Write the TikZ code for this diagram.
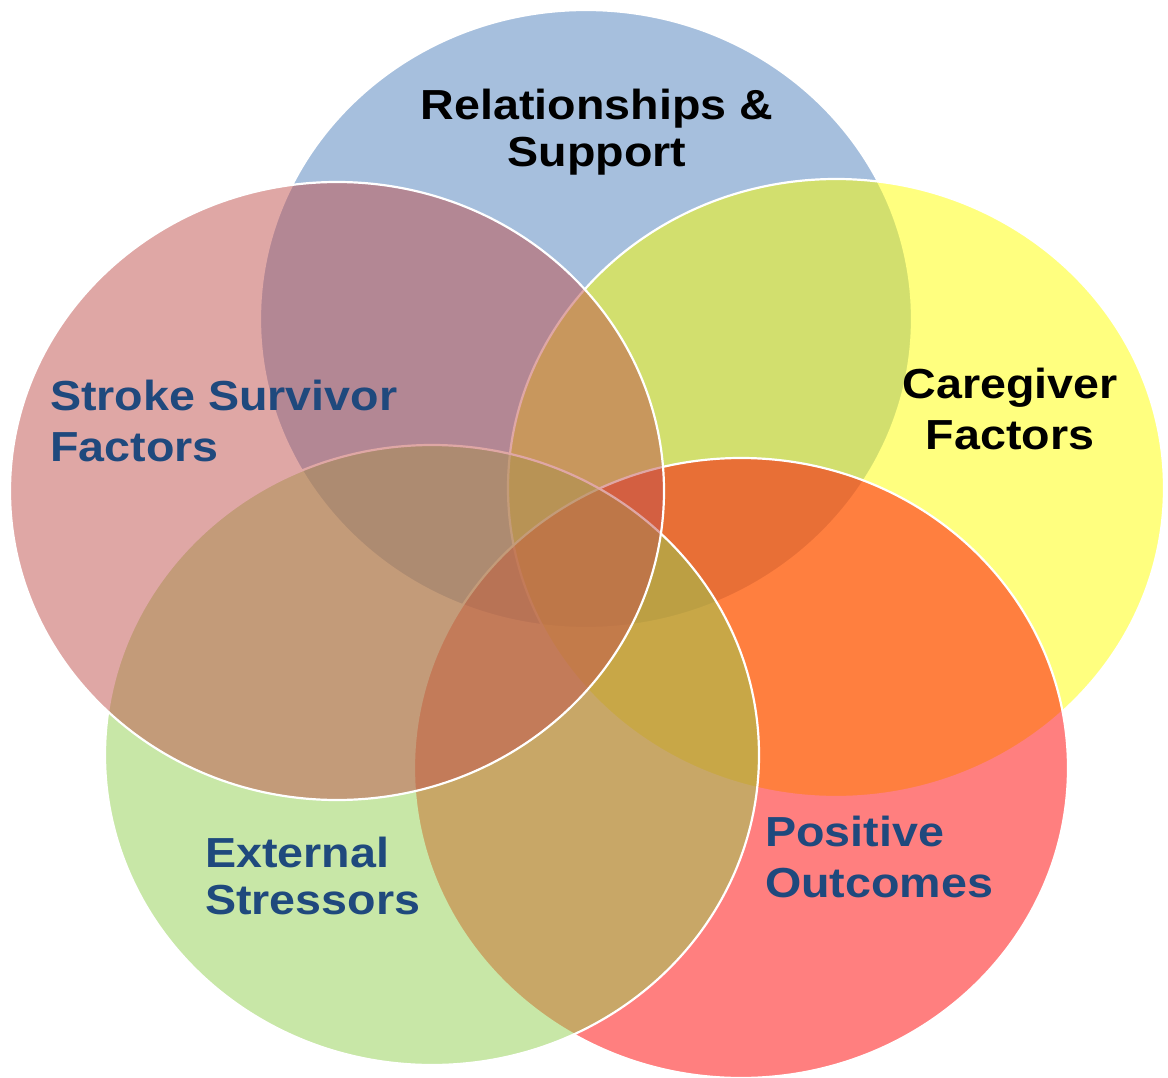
\documentclass[tikz,border=0pt]{standalone}
\usepackage{fontspec}
\setmainfont{Liberation Sans}[FakeStretch=1.11]
\definecolor{cblue}{HTML}{4F81BD}
\definecolor{cpink}{HTML}{C0504D}
\definecolor{cyellow}{HTML}{FFFF00}
\definecolor{cgreen}{HTML}{92D050}
\definecolor{cred}{HTML}{FF0000}
\definecolor{navy}{HTML}{1F497D}
\begin{document}
\begin{tikzpicture}[x=1pt,y=-1pt,
  circ/.style={draw=white,line width=2.2pt,fill opacity=0.5,draw opacity=1},
  lbl/.style={inner sep=0pt,font=\bfseries\fontsize{42}{51}\selectfont},
  lbltight/.style={inner sep=0pt,font=\bfseries\fontsize{42}{47}\selectfont}]
\useasboundingbox (0,0) rectangle (1168,1078);
\fill[white] (0,0) rectangle (1168,1078);
% circles (drawing order as in the reference)
\path[circ,fill=cblue]   (586,319) ellipse [x radius=326pt,y radius=309pt];
\path[circ,fill=cyellow] (836,488) ellipse [x radius=328pt,y radius=309pt];
\path[circ,fill=cred]    (741,768) ellipse [x radius=327pt,y radius=310pt];
\path[circ,fill=cgreen]  (432,755) ellipse [x radius=327pt,y radius=310pt];
\path[circ,fill=cpink]   (337,491) ellipse [x radius=327pt,y radius=309pt];
% labels (base anchor = baseline of the last line)
\node[lbltight,anchor=base,align=center] (rel) at (597,167) {Relationships \&\\Support};
\node[lbl,anchor=base west,align=left,text=navy] (ssf) at (50,461) {Stroke Survivor\\Factors};
\node[lbl,anchor=base,align=center] (cgf) at (1010,449) {Caregiver\\Factors};
\node[lbltight,anchor=base west,align=left,text=navy] (ext) at (205,914) {External\\Stressors};
\node[lbl,anchor=base west,align=left,text=navy] (pos) at (765,897) {Positive\\Outcomes};
\end{tikzpicture}
\end{document}
